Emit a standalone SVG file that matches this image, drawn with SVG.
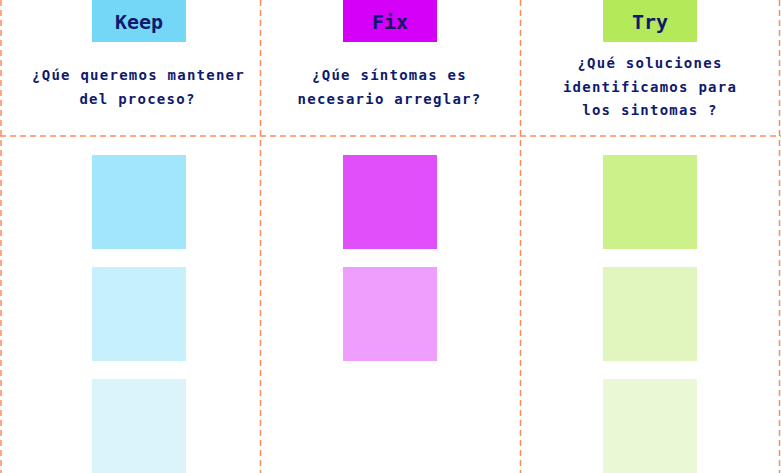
<svg xmlns="http://www.w3.org/2000/svg" width="781" height="473" viewBox="0 0 781 473">
<style>
.grid{stroke:#ff8a5c;stroke-width:1.5;stroke-dasharray:6 4;fill:none}
.title{font-family:"DejaVu Sans Mono","Liberation Mono",monospace;font-weight:bold;font-size:20px;fill:#0f1a6e;text-anchor:middle}
.q{font-family:"DejaVu Sans Mono","Liberation Mono",monospace;font-weight:bold;font-size:14px;letter-spacing:1.25px;fill:#0f1a6e;text-anchor:middle}
</style>
<rect width="781" height="473" fill="#ffffff"/>
<g id="grid">
<line class="grid" x1="1" y1="0" x2="1" y2="473"/>
<line class="grid" x1="260.5" y1="0" x2="260.5" y2="473"/>
<line class="grid" x1="520.5" y1="0" x2="520.5" y2="473"/>
<line class="grid" x1="779.5" y1="0" x2="779.5" y2="473"/>
<line class="grid" x1="0" y1="136" x2="781" y2="136"/>
</g>
<g id="keep-header">
<rect x="92" y="0" width="94" height="42" fill="#75d7f7"/>
<text class="title" x="139" y="29">Keep</text>
</g>
<g id="keep-question">
<text class="q" x="138.5" y="80">¿Qúe queremos mantener</text>
<text class="q" x="137.5" y="104">del proceso?</text>
</g>
<g id="fix-header">
<rect x="343" y="0" width="94" height="42" fill="#d400f7"/>
<text class="title" x="390" y="29">Fix</text>
</g>
<g id="fix-question">
<text class="q" x="389.5" y="80">¿Qúe síntomas es</text>
<text class="q" x="389.5" y="104">necesario arreglar?</text>
</g>
<g id="try-header">
<rect x="603" y="0" width="94" height="42" fill="#b4e95a"/>
<text class="title" x="650" y="29">Try</text>
</g>
<g id="try-question">
<text class="q" x="650" y="68">¿Qué soluciones</text>
<text class="q" x="650" y="91.5">identificamos para</text>
<text class="q" x="650" y="115">los sintomas ?</text>
</g>
<g id="keep-note-1"><rect x="92" y="155" width="94" height="94" fill="#a1e6fb"/></g>
<g id="keep-note-2"><rect x="92" y="267" width="94" height="94" fill="#c7f0fd"/></g>
<g id="keep-note-3"><rect x="92" y="379" width="94" height="94" fill="#dbf4fb"/></g>
<g id="fix-note-1"><rect x="343" y="155" width="94" height="94" fill="#e14ffb"/></g>
<g id="fix-note-2"><rect x="343" y="267" width="94" height="94" fill="#ef9efe"/></g>
<g id="try-note-1"><rect x="603" y="155" width="94" height="94" fill="#ccf18a"/></g>
<g id="try-note-2"><rect x="603" y="267" width="94" height="94" fill="#e1f6be"/></g>
<g id="try-note-3"><rect x="603" y="379" width="94" height="94" fill="#ebf8d6"/></g>
</svg>
